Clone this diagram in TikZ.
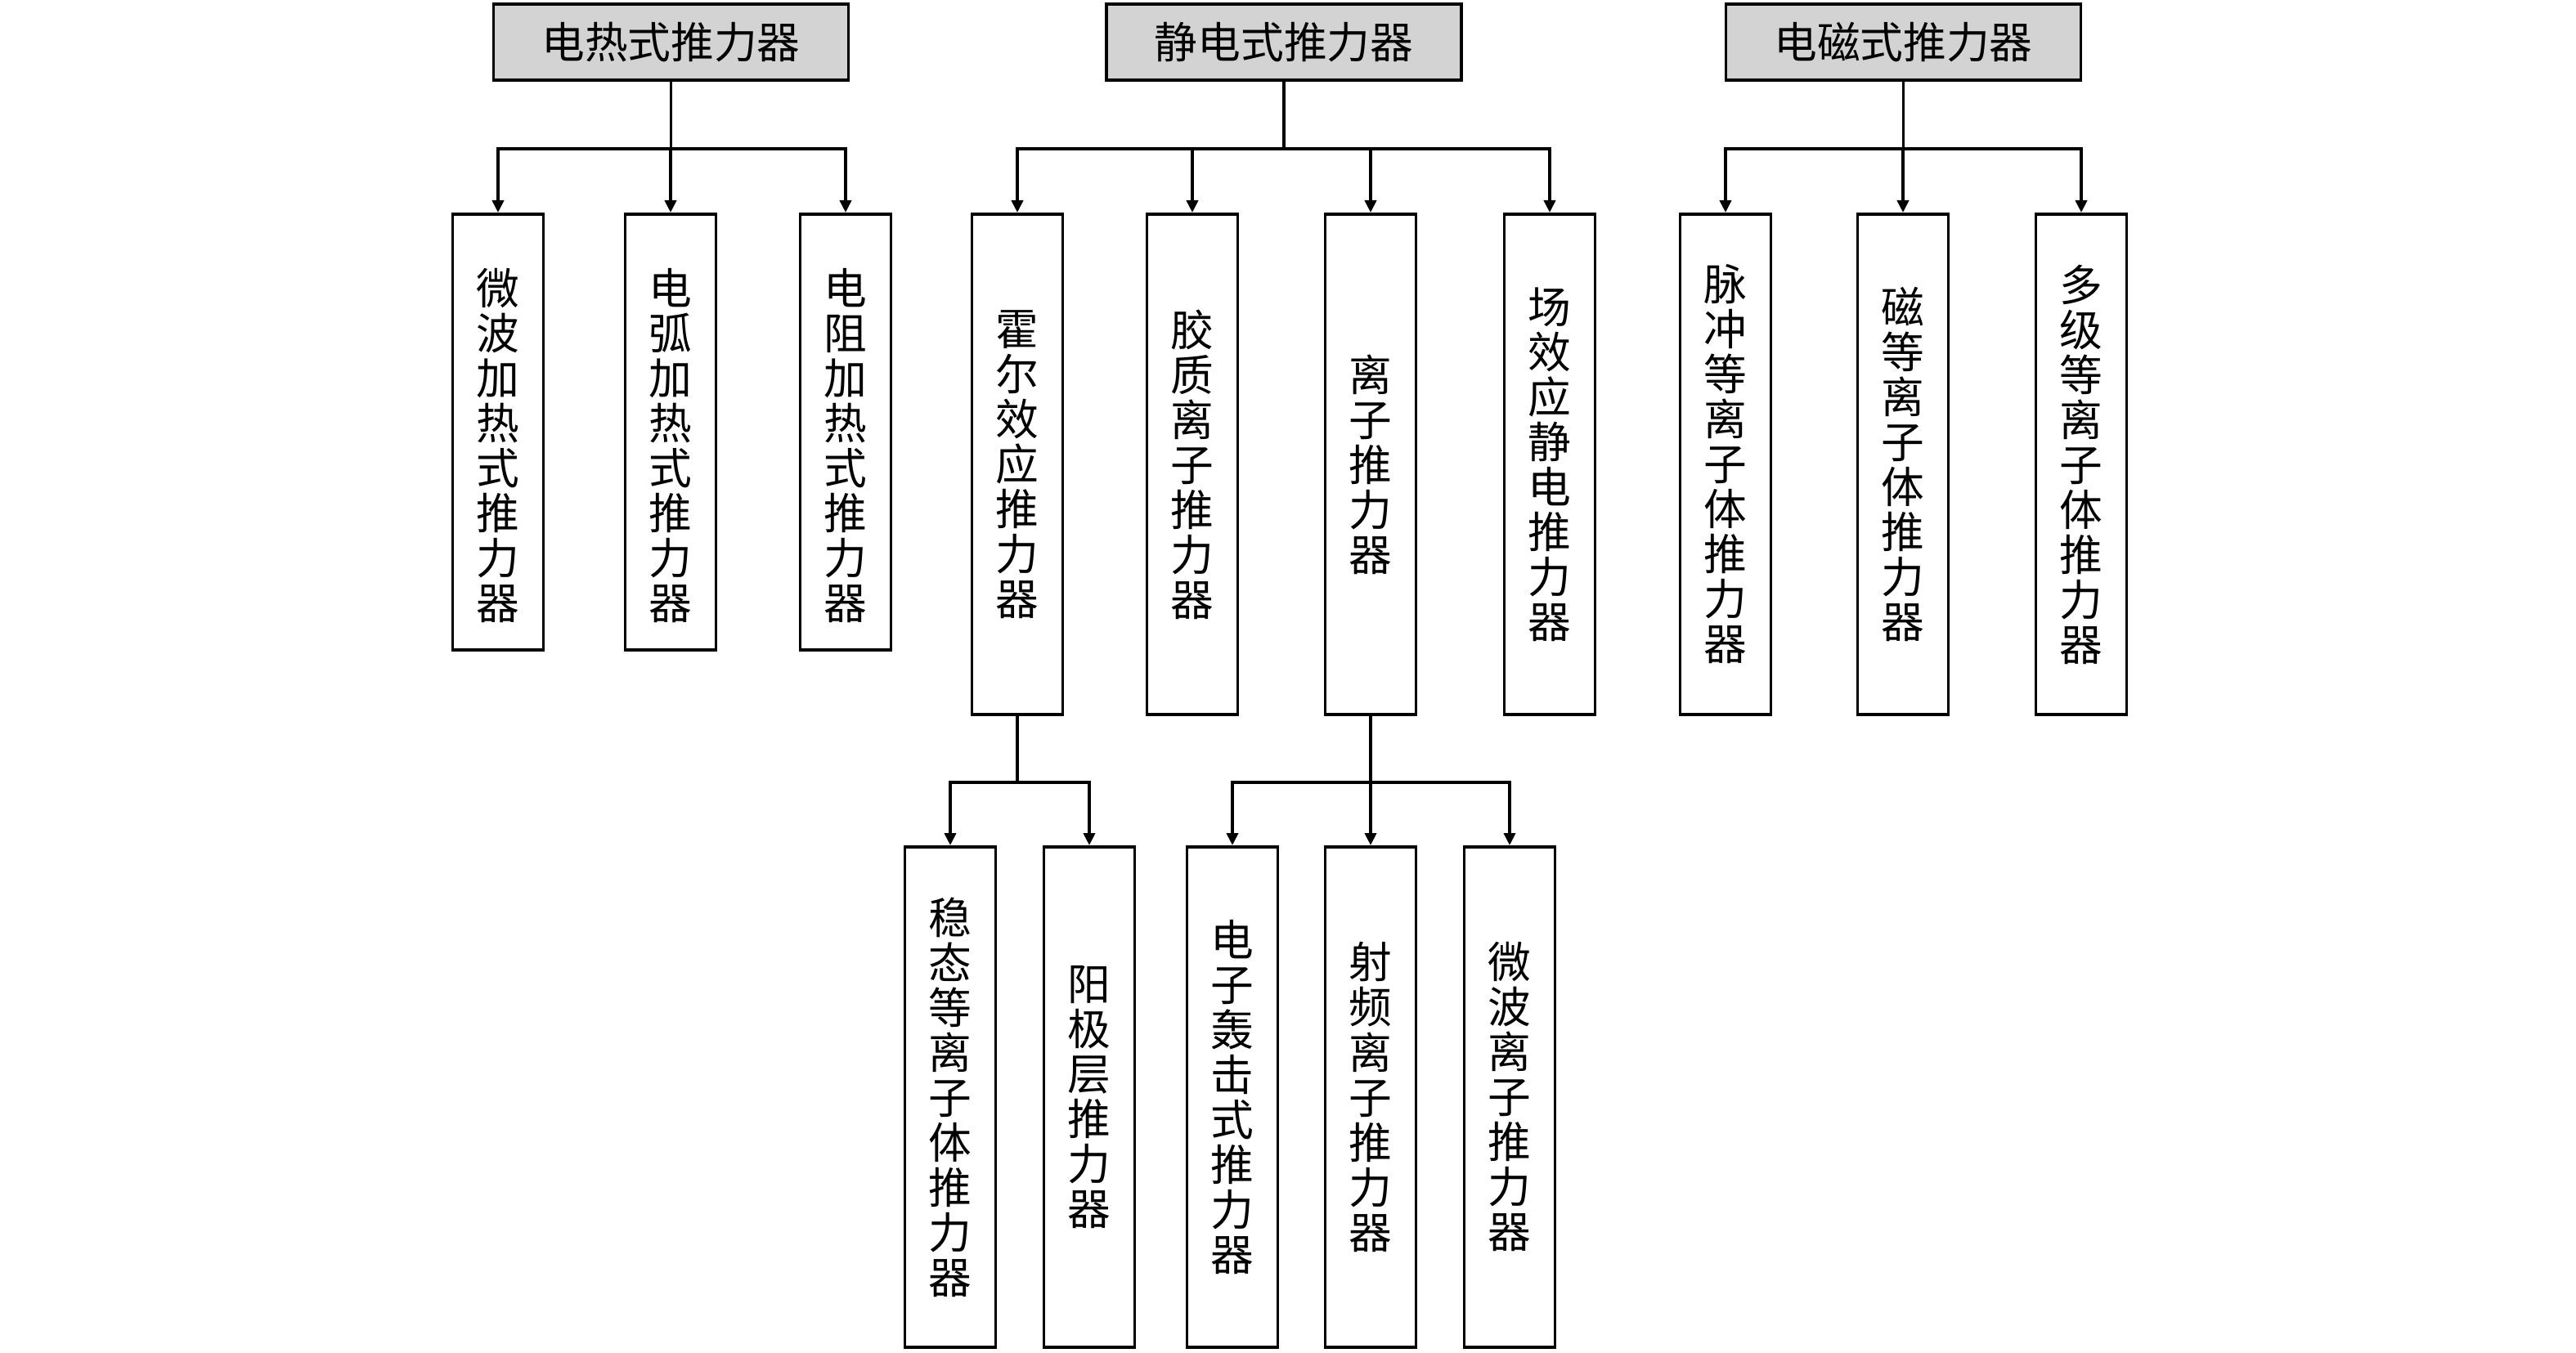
\documentclass[tikz,border=0pt]{standalone}
\usepackage{fontspec}
\newfontfamily\cjk{Noto Sans CJK SC}
\usetikzlibrary{arrows.meta,positioning}

\definecolor{kopfgrau}{RGB}{211,211,211}

\tikzset{
	kopf/.style={draw,fill=kopfgrau,minimum width=43.4mm,minimum height=9.3mm,
		inner sep=0pt,font=\cjk\fontsize{15}{16}\selectfont},
	saeule/.style={draw,anchor=north,minimum width=11.1mm,inner sep=0pt,
		align=center,font=\cjk\fontsize{15}{15.65}\selectfont}
}

% schiebt den Text der ersten Reihe etwas nach unten
\def\oben{\rule{0pt}{22pt}}

\begin{document}
\begin{tikzpicture}[x=1mm,y=-1mm,line width=1.1pt,
	>={Triangle[length=1.5mm,width=1.4mm]}]

\useasboundingbox (0,0) rectangle (315,165.5);

%
% Oberste Ebene
%
\node[kopf] (heat) at (82.05,5.15) {电热式推力器};
\node[kopf] (stat) at (157.0,5.15) {静电式推力器};
\node[kopf] (mag)  at (232.75,5.15) {电磁式推力器};

%
% Elektrothermische Triebwerke
%
\foreach \x/\n/\t in {60.9/mikro/{\oben 微\\波\\加\\热\\式\\推\\力\\器},
		82.0/bogen/{\oben 电\\弧\\加\\热\\式\\推\\力\\器},
		103.4/wider/{\oben 电\\阻\\加\\热\\式\\推\\力\\器}}{
	\node[saeule,minimum height=53.3mm] (\n) at (\x,26) {\t};
}

\coordinate[below=8.2mm of heat.south] (hk);
\draw (heat.south) -- (hk);
\foreach \n in {mikro,bogen,wider}{
	\draw[->] (hk) -| (\n.north);
}

%
% Elektrostatische Triebwerke
%
\foreach \x/\n/\t in {124.4/hall/{霍\\尔\\效\\应\\推\\力\\器},
		145.8/kolloid/{胶\\质\\离\\子\\推\\力\\器},
		167.6/ion/{离\\子\\推\\力\\器},
		189.5/feld/{场\\效\\应\\静\\电\\推\\力\\器}}{
	\node[saeule,minimum height=61.2mm] (\n) at (\x,26) {\t};
}

\coordinate[below=8.2mm of stat.south] (sk);
\draw (stat.south) -- (sk);
\foreach \n in {hall,kolloid,ion,feld}{
	\draw[->] (sk) -| (\n.north);
}

%
% Elektromagnetische Triebwerke
%
\foreach \x/\n/\t in {211.0/puls/{脉\\冲\\等\\离\\子\\体\\推\\力\\器},
		232.7/mpd/{磁\\等\\离\\子\\体\\推\\力\\器},
		254.5/stufe/{多\\级\\等\\离\\子\\体\\推\\力\\器}}{
	\node[saeule,minimum height=61.2mm] (\n) at (\x,26) {\t};
}

\coordinate[below=8.2mm of mag.south] (mk);
\draw (mag.south) -- (mk);
\foreach \n in {puls,mpd,stufe}{
	\draw[->] (mk) -| (\n.north);
}

%
% Unterarten von Hall- und Ionentriebwerk
%
\foreach \x/\n/\t in {116.2/spt/{稳\\态\\等\\离\\子\\体\\推\\力\\器},
		133.2/tal/{阳\\极\\层\\推\\力\\器},
		150.7/beschuss/{电\\子\\轰\\击\\式\\推\\力\\器},
		167.6/rf/{射\\频\\离\\子\\推\\力\\器},
		184.6/mw/{微\\波\\离\\子\\推\\力\\器}}{
	\node[saeule,minimum height=61.2mm] (\n) at (\x,103.4) {\t};
}

\coordinate[below=8.1mm of hall.south] (hallk);
\draw (hall.south) -- (hallk);
\foreach \n in {spt,tal}{
	\draw[->] (hallk) -| (\n.north);
}

\coordinate[below=8.1mm of ion.south] (ionk);
\draw (ion.south) -- (ionk);
\foreach \n in {beschuss,rf,mw}{
	\draw[->] (ionk) -| (\n.north);
}

\end{tikzpicture}
\end{document}
